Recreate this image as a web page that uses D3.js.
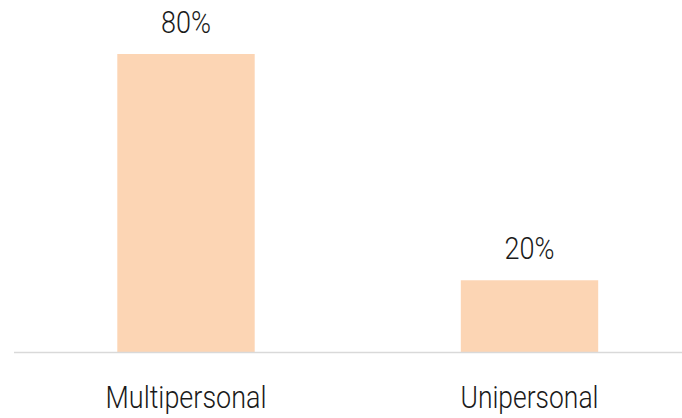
<!DOCTYPE html>
<html>
<head>
<meta charset="utf-8">
<script src="https://cdn.jsdelivr.net/npm/d3@7"></script>
<style>
  html, body { margin: 0; padding: 0; background: #fff; }
  text { font-family: Roboto, "Liberation Sans", sans-serif; font-weight: 300; fill: #1a1a1a; }
</style>
</head>
<body>
<svg></svg>
<script>
// data
let categories = ["Multipersonal", "Unipersonal"];
let values = [80.6, 19.4];
let valueLabels = ["80%", "20%"];

let width = 682;
let height = 418;
let baseline = 352;
let svg = d3.select('svg');

const drawCanvas = () => {
    svg.attr('width', width)
       .attr('height', height);
};

let xScale = d3.scaleBand()
               .domain(categories)
               .range([14.25, 701.25])
               .paddingInner(0.6)
               .paddingOuter(0.3);

let yScale = d3.scaleLinear()
               .domain([0, 80.6])
               .range([baseline, 54]);

const drawBars = () => {
    svg.selectAll("rect.bar")
       .data(values)
       .enter()
       .append('rect')
       .attr('class', 'bar')
       .attr('x', (d, i) => xScale(categories[i]))
       .attr('y', (d) => yScale(d))
       .attr('width', xScale.bandwidth())
       .attr('height', (d) => baseline - yScale(d))
       .attr('fill', '#FCD5B4');

    // baseline
    svg.append('line')
       .attr('x1', 14)
       .attr('x2', width)
       .attr('y1', baseline + 0.5)
       .attr('y2', baseline + 0.5)
       .attr('stroke', '#d9d9d9')
       .attr('stroke-width', 1.5);

    // value labels
    svg.selectAll("text.value")
       .data(values)
       .enter()
       .append('text')
       .attr('class', 'value')
       .attr('x', (d, i) => xScale(categories[i]) + xScale.bandwidth() / 2)
       .attr('y', (d) => yScale(d) - 21)
       .attr('text-anchor', 'middle')
       .attr('font-size', 31)
       .attr('textLength', 50)
       .attr('lengthAdjust', 'spacingAndGlyphs')
       .text((d, i) => valueLabels[i]);

    // category labels
    let catWidths = [161, 138];
    svg.selectAll("text.cat")
       .data(categories)
       .enter()
       .append('text')
       .attr('class', 'cat')
       .attr('x', (d) => xScale(d) + xScale.bandwidth() / 2)
       .attr('y', 408)
       .attr('text-anchor', 'middle')
       .attr('font-size', 31)
       .attr('textLength', (d, i) => catWidths[i])
       .attr('lengthAdjust', 'spacingAndGlyphs')
       .text((d) => d);
};

drawCanvas();
drawBars();
</script>
</body>
</html>
